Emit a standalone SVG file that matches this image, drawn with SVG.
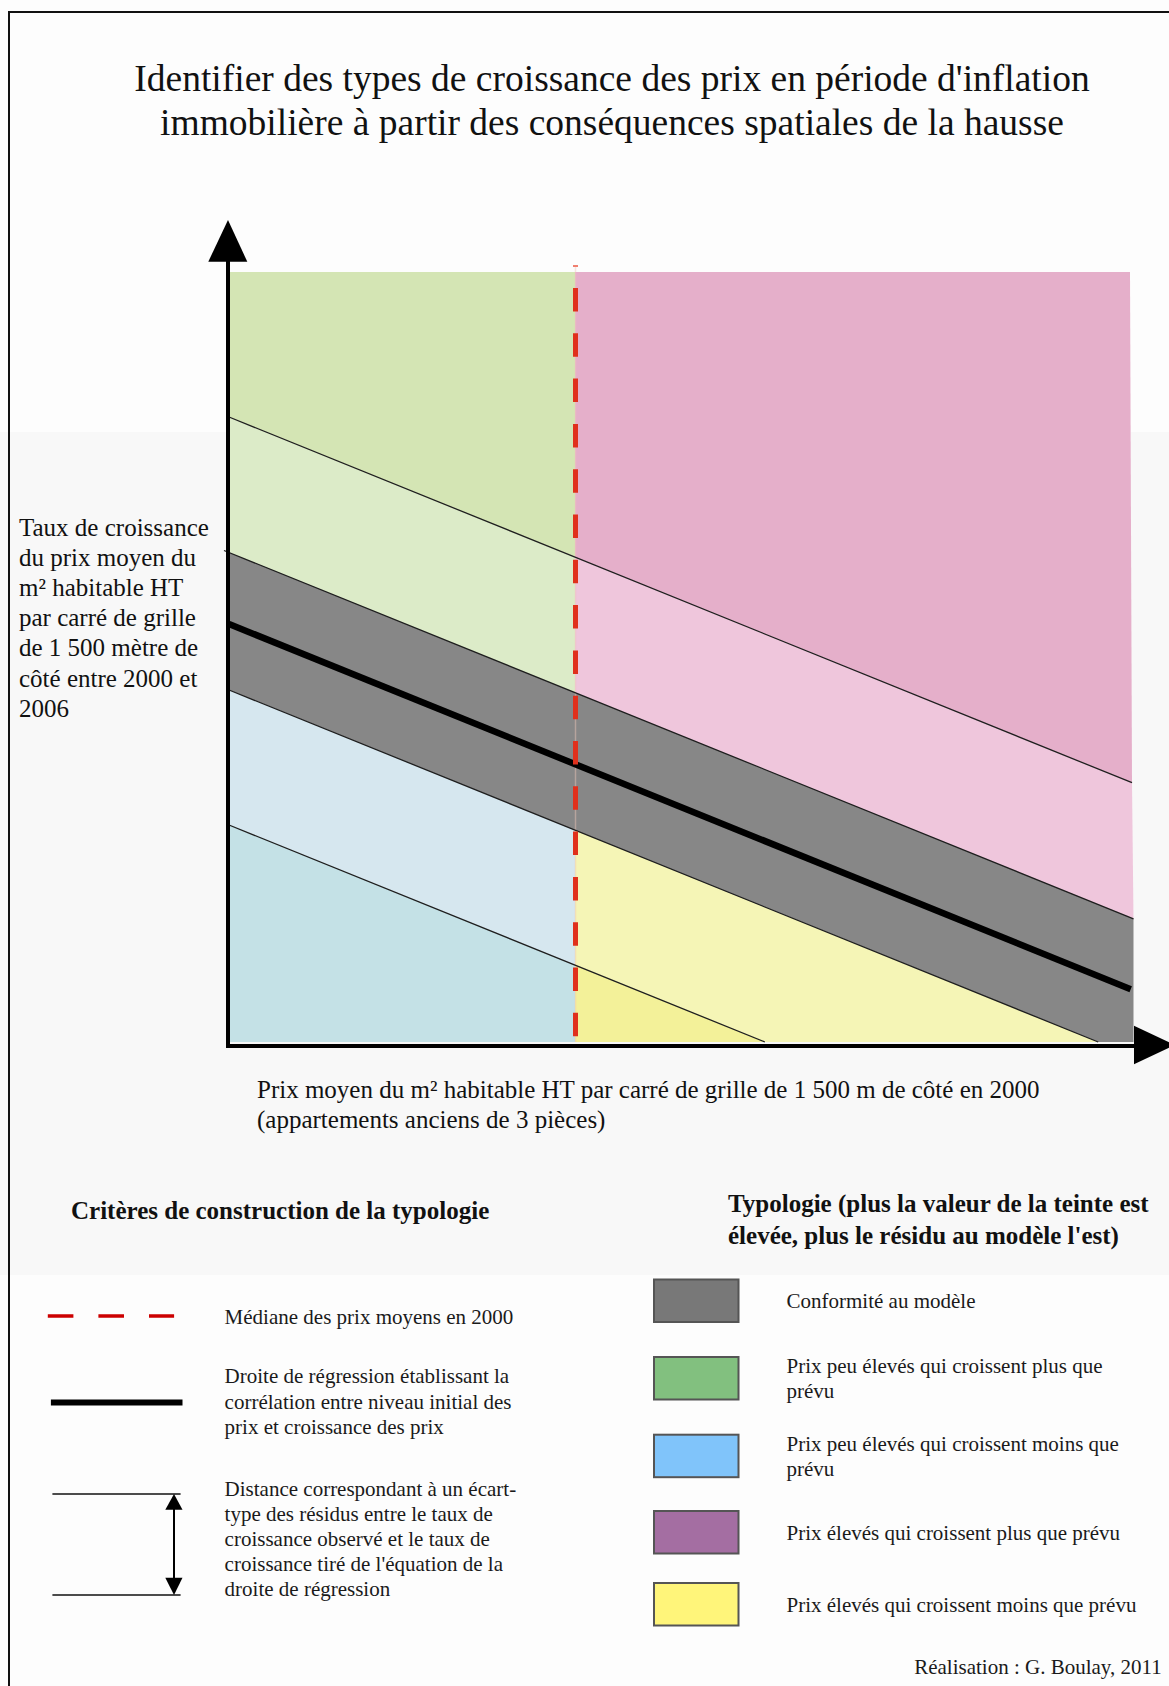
<svg xmlns="http://www.w3.org/2000/svg" width="1169" height="1686" viewBox="0 0 1169 1686">
  <defs>
    <style>
      .serif { font-family: "Liberation Serif", "Times New Roman", serif; fill: #111; }
      .title { font-size: 37.5px; }
      .axis-label { font-size: 25px; }
      .head { font-size: 25px; font-weight: bold; }
      .leg { font-size: 21px; fill: #1a1a1a; }
      .thin { stroke: #1e1e1e; stroke-width: 1.3; fill: none; }
      .axis { stroke: #000; stroke-width: 4; fill: none; }
      .swatch { stroke: #555; stroke-width: 2; }
    </style>
  </defs>

  <!-- background -->
  <rect x="0" y="0" width="1169" height="1686" fill="#fdfdfd"/>
  <rect x="0" y="432" width="1169" height="843" fill="#f8f8f8"/>

  <!-- frame -->
  <g id="frame">
    <polyline points="9,1686 9,12 1169,12" fill="none" stroke="#111" stroke-width="2"/>
  </g>

  <!-- title -->
  <g id="title">
    <text class="serif title" x="612" y="91" text-anchor="middle">Identifier des types de croissance des prix en période d'inflation</text>
    <text class="serif title" x="612" y="135" text-anchor="middle">immobilière à partir des conséquences spatiales de la hausse</text>
  </g>

  <!-- plot regions -->
  <g id="plot-regions">
    <polygon id="region-green-high" points="229,272 575,272 575,557.1 229,417" fill="#d4e5b4"/>
    <polygon id="region-green-low" points="229,417 575,557.1 575,692.6 229,552.5" fill="#dcebc8"/>
    <polygon id="region-pink-high" points="575,272 1130,272 1132,782.7 575,557.1" fill="#e5afca"/>
    <polygon id="region-pink-low" points="575,557.1 1132,782.7 1133.5,918.8 575,692.6" fill="#efc6dc"/>
    <polygon id="region-blue-low" points="229,690 575,830.1 575,965.1 229,825" fill="#d6e7ef"/>
    <polygon id="region-blue-high" points="229,825 575,965.1 575,1042 229,1042" fill="#c4e1e6"/>
    <polygon id="region-yellow-low" points="575,830.1 1098.2,1042 764.9,1042 575,965.1" fill="#f5f5b6"/>
    <polygon id="region-yellow-high" points="575,965.1 764.9,1042 575,1042" fill="#f3f199"/>
    <polygon id="region-gray" points="229,552.5 1133.5,918.8 1133.5,1042 1098.2,1042 229,690" fill="#878787"/>
  </g>

  <!-- connectors: axes, band limits, regression, median -->
  <g id="connectors">
    <line x1="575.5" y1="266" x2="575.5" y2="1042" stroke="#f0c8b8" stroke-opacity="0.45" stroke-width="1.5"/>
    <line class="thin" x1="229" y1="417" x2="1132" y2="782.7"/>
    <line class="thin" x1="224" y1="550.5" x2="1133.5" y2="918.8"/>
    <line class="thin" x1="229" y1="690" x2="1098.2" y2="1042"/>
    <line class="thin" x1="229" y1="825" x2="764.9" y2="1042"/>
    <line id="regression" x1="229" y1="624" x2="1130.7" y2="989.2" stroke="#000" stroke-width="6.5"/>
    <rect x="573" y="265" width="5" height="2" fill="#f08070"/>
    <line id="median" x1="575.5" y1="288" x2="575.5" y2="1042" stroke="#e0301c" stroke-width="5" stroke-dasharray="23.5 21.8"/>
    <line class="axis" x1="228" y1="258" x2="228" y2="1048"/>
    <polygon points="228,220 208.3,261.7 247.3,261.7" fill="#000"/>
    <line class="axis" x1="226" y1="1046" x2="1136" y2="1046"/>
    <polygon points="1175,1045 1134,1025.7 1134,1064.3" fill="#000"/>
  </g>

  <!-- axis labels -->
  <g id="y-axis-label">
    <text class="serif axis-label" x="19" y="536">Taux de croissance</text>
    <text class="serif axis-label" x="19" y="566">du prix moyen du</text>
    <text class="serif axis-label" x="19" y="596">m² habitable HT</text>
    <text class="serif axis-label" x="19" y="626">par carré de grille</text>
    <text class="serif axis-label" x="19" y="656">de 1 500 mètre de</text>
    <text class="serif axis-label" x="19" y="687">côté entre 2000 et</text>
    <text class="serif axis-label" x="19" y="717">2006</text>
  </g>
  <g id="x-axis-label">
    <text class="serif axis-label" x="257" y="1098">Prix moyen du m² habitable HT par carré de grille de 1 500 m de côté en 2000</text>
    <text class="serif axis-label" x="257" y="1128">(appartements anciens de 3 pièces)</text>
  </g>

  <!-- criteria legend -->
  <g id="criteria-legend">
    <text class="serif head" x="71" y="1219">Critères de construction de la typologie</text>
    <g id="crit-median">
      <line x1="47.8" y1="1316" x2="174.1" y2="1316" stroke="#cc0000" stroke-width="3.5" stroke-dasharray="25.6 25"/>
      <text class="serif leg" x="224.6" y="1323.5">Médiane des prix moyens en 2000</text>
    </g>
    <g id="crit-regression">
      <line x1="50.9" y1="1402.6" x2="182.5" y2="1402.6" stroke="#000" stroke-width="6"/>
      <text class="serif leg" x="224.6" y="1383.2">Droite de régression établissant la</text>
      <text class="serif leg" x="224.6" y="1408.8">corrélation entre niveau initial des</text>
      <text class="serif leg" x="224.6" y="1433.5">prix et croissance des prix</text>
    </g>
    <g id="crit-stddev">
      <line x1="52.4" y1="1494" x2="180.6" y2="1494" stroke="#111" stroke-width="1.5"/>
      <line x1="52.4" y1="1595" x2="180.6" y2="1595" stroke="#111" stroke-width="1.5"/>
      <line x1="174" y1="1506" x2="174" y2="1582" stroke="#000" stroke-width="2"/>
      <polygon points="174,1494 165.3,1509.7 182.5,1509.7" fill="#000"/>
      <polygon points="174,1595 165.3,1577.7 182.5,1577.7" fill="#000"/>
      <text class="serif leg" x="224.6" y="1496">Distance correspondant à un écart-</text>
      <text class="serif leg" x="224.6" y="1521">type des résidus entre le taux de</text>
      <text class="serif leg" x="224.6" y="1546">croissance observé et le taux de</text>
      <text class="serif leg" x="224.6" y="1571">croissance tiré de l'équation de la</text>
      <text class="serif leg" x="224.6" y="1596">droite de régression</text>
    </g>
  </g>

  <!-- typology legend -->
  <g id="typology-legend">
    <text class="serif head" x="728" y="1212">Typologie (plus la valeur de la teinte est</text>
    <text class="serif head" x="728" y="1244">élevée, plus le résidu au modèle l'est)</text>
    <g id="type-conform">
      <rect class="swatch" x="654" y="1279.5" width="84.5" height="42.5" fill="#787878"/>
      <text class="serif leg" x="786.5" y="1308">Conformité au modèle</text>
    </g>
    <g id="type-low-more">
      <rect class="swatch" x="654" y="1357" width="84.5" height="42.5" fill="#82c07f"/>
      <text class="serif leg" x="786.5" y="1373">Prix peu élevés qui croissent plus que</text>
      <text class="serif leg" x="786.5" y="1397.6">prévu</text>
    </g>
    <g id="type-low-less">
      <rect class="swatch" x="654" y="1434.7" width="84.5" height="42.5" fill="#80c4fa"/>
      <text class="serif leg" x="786.5" y="1450.8">Prix peu élevés qui croissent moins que</text>
      <text class="serif leg" x="786.5" y="1475.5">prévu</text>
    </g>
    <g id="type-high-more">
      <rect class="swatch" x="654" y="1511" width="84.5" height="42.5" fill="#a46ea2"/>
      <text class="serif leg" x="786.5" y="1540">Prix élevés qui croissent plus que prévu</text>
    </g>
    <g id="type-high-less">
      <rect class="swatch" x="654" y="1583" width="84.5" height="42.5" fill="#fff57a"/>
      <text class="serif leg" x="786.5" y="1612">Prix élevés qui croissent moins que prévu</text>
    </g>
  </g>

  <g id="credit">
    <text class="serif leg" x="914.2" y="1674">Réalisation : G. Boulay, 2011</text>
  </g>
</svg>
